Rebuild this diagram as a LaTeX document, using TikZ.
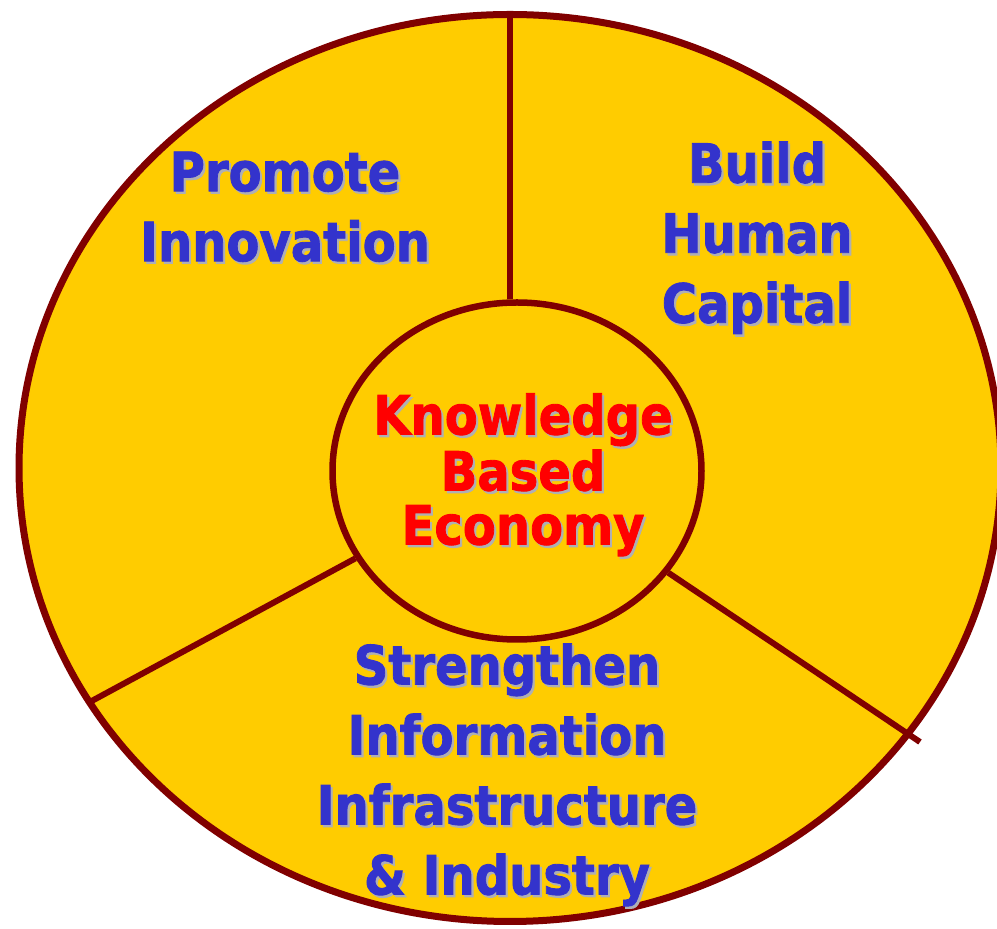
\documentclass[tikz,border=0pt]{standalone}
\usepackage{fontspec}
\setmainfont[BoldFeatures={FakeBold=1.6}]{DejaVu Sans}
\usepackage{tikz}
\usetikzlibrary{shapes.geometric,positioning,calc}
\definecolor{pillarblue}{RGB}{51,51,204}
\definecolor{coregold}{RGB}{255,204,0}
\definecolor{rimred}{RGB}{128,0,0}
\definecolor{shadowgrey}{RGB}{175,175,180}
% text with a small grey drop shadow, a little narrowed
\newcommand{\shd}[1]{\scalebox{0.89}[1]{\rlap{\kern2.4pt\raisebox{-2.4pt}{\textcolor{shadowgrey}{#1}}}#1}}

\begin{document}
\begin{tikzpicture}[
        x=1pt, y=1pt,
        font=\bfseries\fontsize{54}{70}\selectfont,
        rim/.style={ellipse, draw=rimred, line width=7pt, fill=coregold, inner sep=0pt},
        spoke/.style={draw=rimred, line width=6pt},
        pillar/.style={text=pillarblue, align=center, inner sep=0pt},
        core/.style={text=red, align=center, inner sep=0pt, font=\bfseries\fontsize{54}{54}\selectfont}
    ]
        \useasboundingbox (0,0) rectangle (997,929);
        \clip (0,0) rectangle (997,929);

        \node[rim, minimum width=982, minimum height=907] (whole) at (510,461) {};

        % spoke ends on the outer rim
        \coordinate (topend) at (510,914);
        \coordinate (leftend) at (88,226);
        \coordinate (rightend) at (920,187);

        \node[rim, line width=6.5pt, minimum width=369, minimum height=337] (kbe) at (517,458) {};
        \draw[spoke] (kbe.north -| topend) -- (topend);
        \draw[spoke] (kbe) -- (leftend);
        \draw[spoke] (kbe) -- (rightend);

        \node[core] (kbetext) at (523,453) {\shd{Knowledge}\\\shd{Based}\\\shd{Economy}};
        \node[pillar] (innov) at (285,721) {\shd{Promote}\\\shd{Innovation}};
        \node[pillar] (human) at (757,690) {\shd{Build}\\\shd{Human}\\\shd{Capital}};
        \node[pillar] (infra) at (507,153) {\shd{Strengthen}\\\shd{Information}\\\shd{Infrastructure}\\\shd{\& Industry}};
    \end{tikzpicture}
\end{document}
